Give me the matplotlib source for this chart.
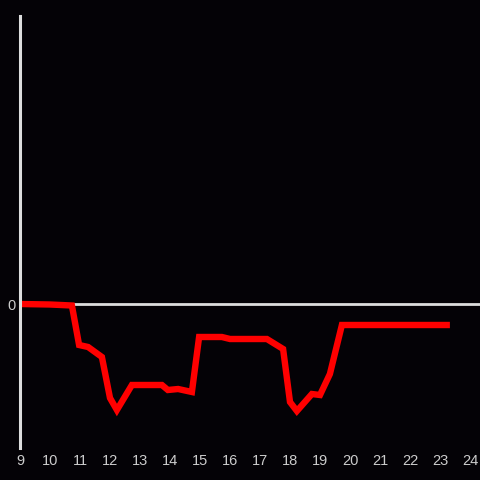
import matplotlib
matplotlib.use('Agg')
import matplotlib.pyplot as plt

# hour of day vs value (arbitrary units, 0 = baseline)
hours = [9.0, 10.0, 10.73, 10.97, 11.27, 11.73, 12.0, 12.23, 12.73, 13.73,
         13.93, 14.27, 14.73, 14.97, 15.73, 16.0, 17.23, 17.77, 18.0, 18.23,
         18.73, 19.0, 19.33, 19.73, 23.33]
values = [0, -0.5, -1.5, -41, -43, -53, -94, -106, -81, -81,
          -86, -85, -88, -33, -33, -35, -35, -45, -98, -107,
          -90, -91, -70, -21, -21]
xticks = list(range(9, 25))

BG = '#040206'
AXIS = '#dddddd'
TEXT = '#cccccc'

fig = plt.figure(figsize=(4.8, 4.8), dpi=100, facecolor=BG)
ax = fig.add_axes([20 / 480, 32 / 480, 460 / 480, 432 / 480], facecolor=BG)

ax.axhline(0, color=AXIS, lw=2, zorder=1)
ax.plot(hours, values, color='#ff0000', lw=4.6, solid_joinstyle='miter',
        solid_capstyle='butt', zorder=2)

ax.set_xlim(9, 24 + 10 / 30)
ax.set_ylim(-144, 288)

for s in ['top', 'right', 'bottom']:
    ax.spines[s].set_visible(False)
ax.spines['left'].set_color(AXIS)
ax.spines['left'].set_linewidth(2.2)
ax.spines['left'].set_zorder(3)

ax.set_xticks(xticks)
ax.set_xticklabels([str(t) for t in xticks])
ax.set_yticks([0])
ax.set_yticklabels(['0'])
ax.tick_params(axis='x', length=0, colors=TEXT, labelsize=10.5, pad=4)
ax.tick_params(axis='y', length=0, colors=TEXT, labelsize=10.5, pad=3)
for lab in ax.get_xticklabels() + ax.get_yticklabels():
    lab.set_family(['Liberation Sans', 'DejaVu Sans'])

fig.savefig('out.png', dpi=100, facecolor=BG)
